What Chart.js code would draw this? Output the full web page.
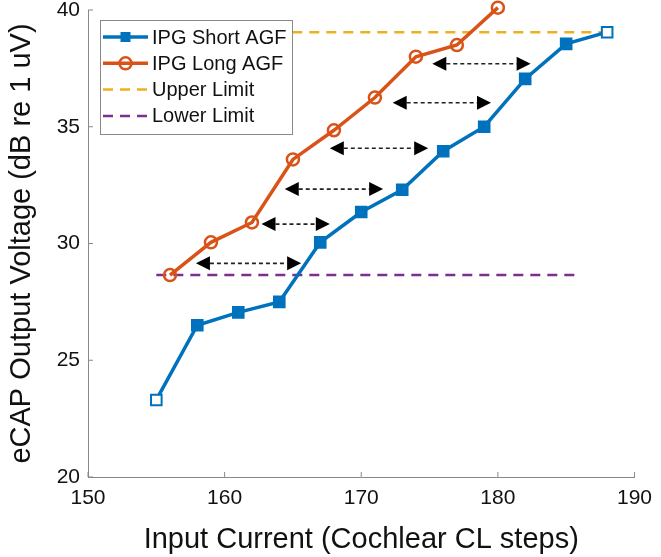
<!DOCTYPE html>
<html>
<head>
<meta charset="utf-8">
<script src="https://cdn.jsdelivr.net/npm/chart.js@4.4.1/dist/chart.umd.min.js"></script>
<style>
  html, body { margin: 0; padding: 0; background: #fff; }
  #wrap { width: 661px; height: 557px; }
</style>
</head>
<body>
<div id="wrap"><canvas id="c" width="661" height="557"></canvas></div>
<script>
// values
const shortX = [155, 158, 161, 164, 167, 170, 173, 176, 179, 182, 185, 188]
const shortY = [23.3, 26.5, 27.05, 27.5, 30.05, 31.35, 32.3, 33.95, 35.0, 37.05, 38.55, 39.05]
const longX = [156, 159, 162, 165, 168, 171, 174, 177, 180]
const longY = [28.65, 30.05, 30.9, 33.6, 34.85, 36.25, 38.0, 38.5, 40.1]
const upperX = [155, 188]
const upperY = [39.05, 39.05]
const lowerX = [155, 186]
const lowerY = [28.65, 28.65]
// [y, from x, to x]
const arrows = [
  [29.15, 157.9, 165.6],
  [30.83, 162.7, 167.7],
  [32.33, 164.4, 171.6],
  [34.08, 167.7, 174.9],
  [36.03, 172.3, 179.5],
  [37.7, 175.2, 182.4],
]
const xTicks = [150, 160, 170, 180, 190]
const yTicks = [20, 25, 30, 35, 40]

const BLUE = "#0072BD"
const ORANGE = "#D95319"
const YELLOW = "#EDB120"
const PURPLE = "#7E2F8E"
const FONT = "'Liberation Sans', Arial, Helvetica, sans-serif"

const pts = (xs, ys) => xs.map((x, i) => ({x: x, y: ys[i]}))

const shortFill = shortX.map((x, i) => (i === 0 || i === shortX.length - 1) ? "#fff" : BLUE)

// dashed double arrows between the two curves
const arrowPlugin = {
  id: "arrows",
  afterDatasetsDraw(chart) {
    const {ctx, scales} = chart
    ctx.save()
    ctx.strokeStyle = "#222"
    ctx.fillStyle = "#000"
    ctx.lineWidth = 1.6
    arrows.forEach(([y, x1, x2]) => {
      const py = scales.y.getPixelForValue(y)
      const a = scales.x.getPixelForValue(x1)
      const b = scales.x.getPixelForValue(x2)
      const head = 14, half = 7
      ctx.setLineDash([4, 3])
      ctx.beginPath()
      ctx.moveTo(a + head, py)
      ctx.lineTo(b - head, py)
      ctx.stroke()
      ctx.setLineDash([])
      ctx.beginPath()
      ctx.moveTo(a, py); ctx.lineTo(a + head, py - half); ctx.lineTo(a + head, py + half)
      ctx.closePath(); ctx.fill()
      ctx.beginPath()
      ctx.moveTo(b, py); ctx.lineTo(b - head, py - half); ctx.lineTo(b - head, py + half)
      ctx.closePath(); ctx.fill()
    })
    ctx.restore()
  },
}

// inward ticks, matlab style
const innerTicks = {
  id: "innerTicks",
  afterDraw(chart) {
    const {ctx, scales, chartArea} = chart
    ctx.save()
    ctx.strokeStyle = "#888"
    ctx.lineWidth = 1
    xTicks.forEach(v => {
      const px = scales.x.getPixelForValue(v)
      ctx.beginPath()
      ctx.moveTo(px, chartArea.bottom)
      ctx.lineTo(px, chartArea.bottom - 5)
      ctx.stroke()
    })
    yTicks.forEach(v => {
      const py = scales.y.getPixelForValue(v)
      ctx.beginPath()
      ctx.moveTo(chartArea.left, py)
      ctx.lineTo(chartArea.left + 5, py)
      ctx.stroke()
    })
    ctx.restore()
  },
}

// boxed legend with line + marker samples
const boxLegend = {
  id: "boxLegend",
  afterDraw(chart) {
    const {ctx} = chart
    const left = 100, top = 20, w = 192, h = 114, rowH = 26.3
    ctx.save()
    ctx.fillStyle = "#fff"
    ctx.fillRect(left, top, w, h)
    ctx.strokeStyle = "#8a8a8a"
    ctx.lineWidth = 1
    ctx.strokeRect(left + 0.5, top + 0.5, w, h)
    chart.data.datasets.forEach((ds, i) => {
      const y = top + 17 + i * rowH
      const x0 = left + 3, x1 = left + 48
      ctx.save()
      ctx.strokeStyle = ds.borderColor
      ctx.lineWidth = ds.borderWidth
      ctx.setLineDash(ds.borderDash || [])
      ctx.beginPath()
      ctx.moveTo(x0, y)
      ctx.lineTo(x1, y)
      ctx.stroke()
      ctx.setLineDash([])
      const cx = (x0 + x1) / 2
      if (ds.pointStyle === "rect") {
        ctx.fillStyle = ds.borderColor
        ctx.fillRect(cx - 5, y - 5, 10, 10)
      } else if (ds.pointStyle === "circle") {
        ctx.lineWidth = 2.5
        ctx.beginPath()
        ctx.arc(cx, y, 6, 0, Math.PI * 2)
        ctx.stroke()
      }
      ctx.restore()
      ctx.fillStyle = "#111"
      ctx.font = "20px " + FONT
      ctx.textBaseline = "middle"
      ctx.fillText(ds.label, left + 52, y + 1)
    })
    ctx.restore()
  },
}

new Chart(document.getElementById("c"), {
  type: "line",
  data: {
    datasets: [
      {
        label: "IPG Short AGF",
        data: pts(shortX, shortY),
        borderColor: BLUE,
        borderWidth: 3.5,
        pointStyle: "rect",
        pointRadius: 7.5,
        pointBorderWidth: 2,
        pointBackgroundColor: shortFill,
        pointBorderColor: BLUE,
        clip: false,
      },
      {
        label: "IPG Long AGF",
        data: pts(longX, longY),
        borderColor: ORANGE,
        borderWidth: 3.5,
        pointStyle: "circle",
        pointRadius: 6,
        pointBorderWidth: 2.5,
        pointBackgroundColor: "rgba(255,255,255,0)",
        pointBorderColor: ORANGE,
        clip: false,
      },
      {
        label: "Upper Limit",
        data: pts(upperX, upperY),
        borderColor: YELLOW,
        borderWidth: 2.5,
        borderDash: [10, 7],
        pointRadius: 0,
        pointStyle: false,
        clip: false,
      },
      {
        label: "Lower Limit",
        data: pts(lowerX, lowerY),
        borderColor: PURPLE,
        borderWidth: 2.5,
        borderDash: [10, 7],
        pointRadius: 0,
        pointStyle: false,
        clip: false,
      },
    ],
  },
  options: {
    responsive: false,
    animation: false,
    layout: {padding: {top: 0, right: 25, left: 0, bottom: 0}},
    plugins: {
      legend: {display: false},
      tooltip: {enabled: false},
    },
    scales: {
      x: {
        type: "linear",
        min: 150,
        max: 190,
        afterBuildTicks: s => { s.ticks = xTicks.map(v => ({value: v})) },
        afterFit: s => { s.height = 80 },
        ticks: {color: "#111", font: {family: FONT, size: 21}, padding: 9},
        grid: {drawOnChartArea: false, drawTicks: false},
        border: {color: "#888", width: 1},
        title: {display: true, text: "Input Current (Cochlear CL steps)", color: "#111",
          font: {family: FONT, size: 29}, padding: {top: 0, bottom: 0}},
      },
      y: {
        min: 20,
        max: 40,
        afterBuildTicks: s => { s.ticks = yTicks.map(v => ({value: v})) },
        afterFit: s => { s.width = 88; s.paddingTop = 10; s.paddingBottom = 0 },
        ticks: {color: "#111", font: {family: FONT, size: 21}, padding: 8},
        grid: {drawOnChartArea: false, drawTicks: false},
        border: {color: "#888", width: 1},
        title: {display: true, text: "eCAP Output Voltage (dB re 1 uV)", color: "#111",
          font: {family: FONT, size: 29}, padding: {top: 5, bottom: 0}},
      },
    },
  },
  plugins: [arrowPlugin, innerTicks, boxLegend],
})
</script>
</body>
</html>
